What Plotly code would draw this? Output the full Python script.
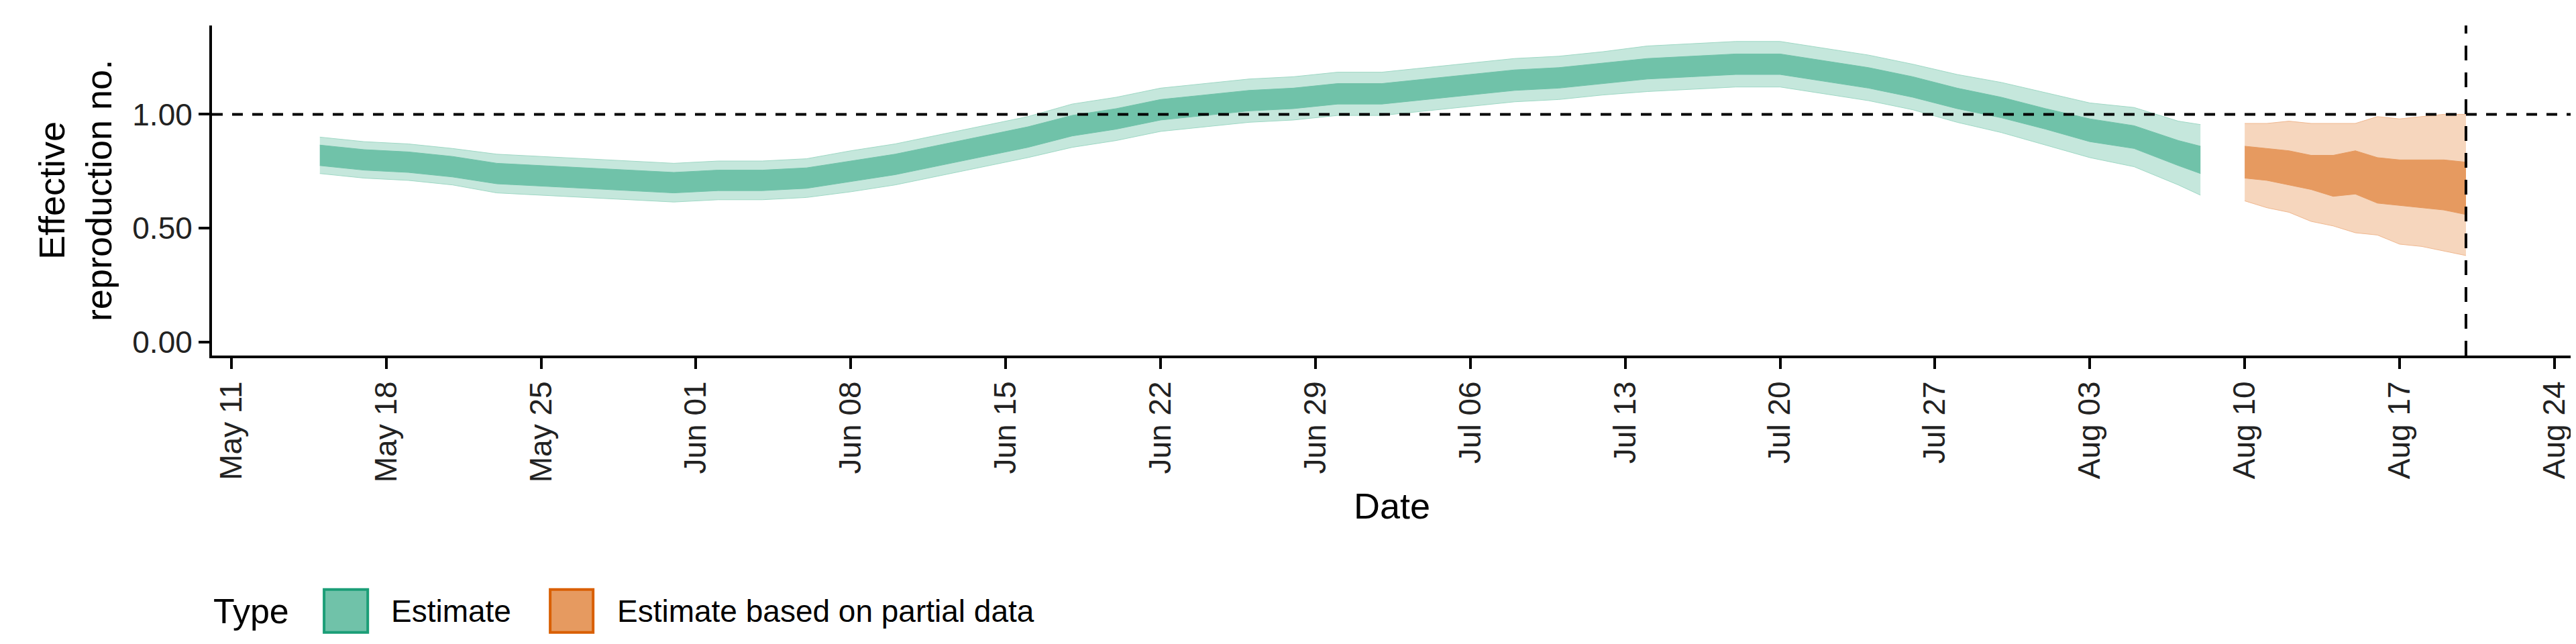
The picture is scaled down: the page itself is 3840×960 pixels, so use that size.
import pandas as pd
import plotly.graph_objects as go

# estimate (every 2 days, May 15 - Aug 7, plus Aug 8)
est_dates = list(pd.date_range("2020-05-15", "2020-08-07", freq="2D").strftime("%Y-%m-%d")) + ["2020-08-08"]
est_median = [0.82, 0.80, 0.79, 0.77, 0.74, 0.73, 0.72, 0.71, 0.70,
              0.71, 0.71, 0.72, 0.75, 0.78, 0.82, 0.86, 0.90, 0.95, 0.98, 1.02, 1.04, 1.06, 1.07, 1.09,
              1.09, 1.11, 1.13, 1.15, 1.16, 1.18, 1.20, 1.21, 1.22, 1.22, 1.19, 1.16, 1.12, 1.07, 1.03,
              0.98, 0.93, 0.90, 0.83, 0.80]
est_w50 = [0.045, 0.045, 0.045, 0.045, 0.045, 0.045, 0.045, 0.045, 0.045,
           0.045, 0.045, 0.045, 0.045, 0.045, 0.045, 0.045, 0.045, 0.045, 0.045, 0.045, 0.045, 0.045, 0.045, 0.045,
           0.045, 0.045, 0.045, 0.045, 0.045, 0.045, 0.045, 0.045, 0.045, 0.045, 0.045, 0.045, 0.045, 0.045, 0.045,
           0.045, 0.05, 0.05, 0.055, 0.06]
est_w90 = [0.08, 0.08, 0.08, 0.08, 0.085, 0.085, 0.085, 0.085, 0.085,
           0.085, 0.085, 0.085, 0.09, 0.09, 0.09, 0.09, 0.09, 0.095, 0.095, 0.095, 0.095, 0.095, 0.095, 0.095,
           0.095, 0.095, 0.095, 0.095, 0.095, 0.095, 0.10, 0.10, 0.10, 0.10, 0.10, 0.10, 0.10, 0.105, 0.11,
           0.115, 0.12, 0.13, 0.14, 0.155]

# estimate based on partial data (daily, Aug 10 - Aug 20)
part_dates = list(pd.date_range("2020-08-10", "2020-08-20", freq="D").strftime("%Y-%m-%d"))
part_u90 = [0.96, 0.96, 0.97, 0.96, 0.96, 0.96, 0.99, 0.98, 0.99, 1.00, 1.00]
part_u50 = [0.86, 0.85, 0.84, 0.82, 0.82, 0.84, 0.81, 0.80, 0.80, 0.80, 0.79]
part_l50 = [0.72, 0.71, 0.69, 0.67, 0.64, 0.65, 0.61, 0.60, 0.59, 0.58, 0.56]
part_l90 = [0.62, 0.59, 0.57, 0.53, 0.51, 0.48, 0.47, 0.43, 0.42, 0.40, 0.38]

legend_names = ["Estimate", "Estimate based on partial data"]

GREEN_L, GREEN_D, GREEN_B = "#c5e7dc", "#70c2a9", "#1b9e77"
ORANGE_L, ORANGE_D, ORANGE_B = "#f6d6bd", "#e69a60", "#d95f02"

fig = go.Figure()


def band(x, lo, hi, color, edge):
    fig.add_trace(go.Scatter(x=x, y=lo, mode="lines", line=dict(width=1, color=edge),
                             showlegend=False, hoverinfo="skip"))
    fig.add_trace(go.Scatter(x=x, y=hi, mode="lines", line=dict(width=1, color=edge), fill="tonexty",
                             fillcolor=color, showlegend=False, hoverinfo="skip"))


band(est_dates, [m - w for m, w in zip(est_median, est_w90)],
     [m + w for m, w in zip(est_median, est_w90)], GREEN_L, "#9fd8c5")
band(est_dates, [m - w for m, w in zip(est_median, est_w50)],
     [m + w for m, w in zip(est_median, est_w50)], GREEN_D, GREEN_D)
band(part_dates, part_l90, part_u90, ORANGE_L, "#f0b890")
band(part_dates, part_l50, part_u50, ORANGE_D, ORANGE_D)

fig.add_hline(y=1.0, line=dict(color="black", width=4, dash="16px,14px"))
fig.add_vline(x="2020-08-20", line=dict(color="black", width=4, dash="22px,18px"))

# hand-drawn legend (plotly caps legend symbol size)
ly = -0.774
fig.add_annotation(xref="paper", yref="paper", x=0.0, y=ly, text="Type", showarrow=False,
                   xanchor="left", yanchor="middle", font=dict(size=52))
for (x0, x1, tx), name, fillc, edge in zip([(0.0475, 0.066, 0.0753), (0.1433, 0.1615, 0.171)],
                                            legend_names, [GREEN_D, ORANGE_D], [GREEN_B, ORANGE_B]):
    fig.add_shape(type="rect", xref="paper", yref="paper", x0=x0, x1=x1, y0=ly - 0.065, y1=ly + 0.065,
                  fillcolor=fillc, line=dict(color=edge, width=4))
    fig.add_annotation(xref="paper", yref="paper", x=tx, y=ly, text=name, showarrow=False,
                       xanchor="left", yanchor="middle", font=dict(size=46))

fig.update_layout(
    width=3840, height=960,
    margin=dict(l=308, r=14, t=30, b=438),
    plot_bgcolor="white", paper_bgcolor="white",
    font=dict(family="Liberation Sans, Arial, sans-serif", size=46, color="black"),
    showlegend=False,
)
fig.update_xaxes(
    range=["2020-05-10 03:00", "2020-08-24 19:00"],
    tick0="2020-05-11", dtick=7 * 86400000, tickformat="%b %d", tickangle=-90,
    ticks="outside", ticklen=16, tickwidth=4, tickcolor="black",
    showline=True, linecolor="black", linewidth=4, showgrid=False,
    title=dict(text="Date", font=dict(size=54), standoff=18),
    tickfont=dict(size=46, color="#222"),
)
fig.update_yaxes(
    range=[-0.059, 1.39], tickvals=[0, 0.5, 1.0], ticktext=["0.00", "0.50", "1.00"],
    ticks="outside", ticklen=16, tickwidth=4, tickcolor="black",
    showline=True, linecolor="black", linewidth=4, showgrid=False, zeroline=False,
    title=dict(text="Effective<br>reproduction no.", font=dict(size=54), standoff=14),
    tickfont=dict(size=46, color="#222"),
)

fig.write_html("out.html")
